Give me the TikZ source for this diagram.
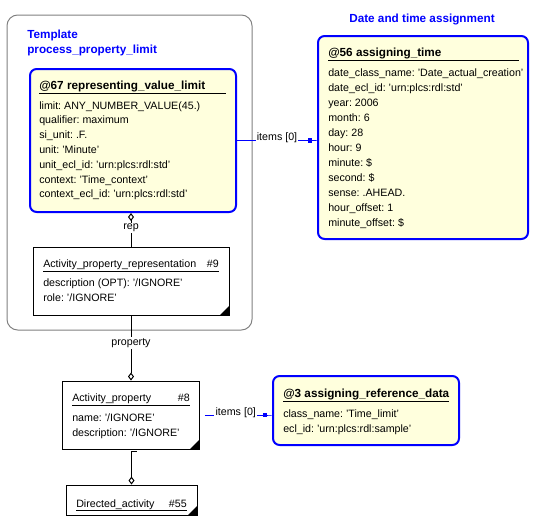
\documentclass[tikz,border=0pt]{standalone}
\usepackage{fontspec}
\setmainfont{Liberation Sans}
\usetikzlibrary{arrows.meta, calc}

\definecolor{entityfill}{RGB}{255,255,221}
\definecolor{entityblue}{RGB}{0,0,255}

\begin{document}
\begin{tikzpicture}[x=0.75pt, y=-0.75pt,
    every node/.style={font=\fontsize{8}{10}\selectfont\frenchspacing},
    entitybox/.style={rectangle, draw=entityblue, line width=1.5pt, fill=entityfill, rounded corners=5pt},
    objbox/.style={rectangle, draw, line width=0.75pt, fill=white},
    attr/.style={anchor=base west, inner sep=0pt},
    ttl/.style={attr, font=\fontsize{8.8}{10}\selectfont\bfseries\frenchspacing},
    heading/.style={inner sep=0pt, text=entityblue, font=\fontsize{8.8}{10}\selectfont\bfseries},
    rel/.style={line width=0.75pt},
    ref/.style={entityblue, line width=0.75pt,
        -{Square[length=3.5pt,width=3.5pt]Rectangle[length=3.5pt,width=0.75pt]}},
    lbl/.style={fill=white, inner sep=1pt, text=black}
]
\useasboundingbox (0,0) rectangle (542,521);

% template frame
\node[rectangle, draw=gray, line width=0.75pt, rounded corners=8pt,
      minimum width=183.75pt, minimum height=236.25pt] (tmpl) at (129.5,172.5) {};
\node[heading, anchor=base west] (tmplname) at (27,38) {Template};
\node[heading, anchor=base west] (tmplproc) at (27,53) {process\_property\_limit};
\node[heading, anchor=base] (dtassign) at (422,22) {Date and time assignment};

% boxes
\node[entitybox, minimum width=154.5pt, minimum height=107.25pt] (b67) at (133,140.5) {};
\node[entitybox, minimum width=157.5pt, minimum height=152.25pt] (b56) at (423,137.5) {};
\node[entitybox, minimum width=139.5pt, minimum height=51.75pt] (b3) at (366,410.5) {};
\node[objbox, minimum width=147pt, minimum height=51pt] (apr) at (131,281) {};
\node[objbox, minimum width=102.75pt, minimum height=51pt] (ap) at (130.5,415) {};
\node[objbox, minimum width=98.25pt, minimum height=22.5pt] (da) at (131.5,500) {};
\foreach \b in {apr, ap, da}
    \fill (\b.south east) -- ++(-10,0) -- ++(10,-10) -- cycle;

% @67
\node[ttl] (b67t) at (39,89) {@67 representing\_value\_limit};
\draw (39,93) -- (226,93);
\foreach \t [count=\i] in {{limit: ANY\_NUMBER\_VALUE(45.)}, {qualifier: maximum}, {si\_unit: .F.},
    {unit: 'Minute'}, {unit\_ecl\_id: 'urn:plcs:rdl:std'}, {context: 'Time\_context'},
    {context\_ecl\_id: 'urn:plcs:rdl:std'}}
    \node[attr] (b67a\i) at (39,94.2+14.8*\i) {\t};

% @56
\node[ttl] (b56t) at (328,56) {@56 assigning\_time};
\draw (328,60) -- (519,60);
\foreach \t [count=\i] in {{date\_class\_name: 'Date\_actual\_creation'}, {date\_ecl\_id: 'urn:plcs:rdl:std'},
    {year: 2006}, {month: 6}, {day: 28}, {hour: 9}, {minute: \$}, {second: \$},
    {sense: .AHEAD.}, {hour\_offset: 1}, {minute\_offset: \$}}
    \node[attr] (b56a\i) at (328,61+15*\i) {\t};

% @3
\node[ttl] (b3t) at (283,397) {@3 assigning\_reference\_data};
\draw (283,401) -- (449,401);
\node[attr] (b3a1) at (283,417) {class\_name: 'Time\_limit'};
\node[attr] (b3a2) at (283,432) {ecl\_id: 'urn:plcs:rdl:sample'};

% #9
\node[attr] (aprt) at (43,267) {Activity\_property\_representation};
\node[attr, anchor=base east] (aprn) at (219,267) {\#9};
\draw (43,271) -- (219,271);
\node[attr] (apra1) at (43,286) {description (OPT): '/IGNORE'};
\node[attr] (apra2) at (43,301) {role: '/IGNORE'};

% #8
\node[attr] (apt) at (72,401) {Activity\_property};
\node[attr, anchor=base east] (apn) at (190,401) {\#8};
\draw (72,405) -- (190,405);
\node[attr] (apa1) at (72,421) {name: '/IGNORE'};
\node[attr] (apa2) at (72,436) {description: '/IGNORE'};

% #55
\node[attr] (dat) at (76,507) {Directed\_activity};
\node[attr, anchor=base east] (dan) at (187,507) {\#55};
\draw (76,510) -- (187,510);

% connectors
\draw[rel, -{Diamond[open, length=6pt, width=4.5pt]}] (apr.north) -- node[lbl, pos=0.55] (rep) {rep} (apr.north |- b67.south);
\draw[rel, -{Diamond[open, length=6pt, width=4.5pt]}] (apr.south) -- node[lbl, pos=0.42] (prop) {property} (apr.south |- ap.north);
\draw[rel, -{Diamond[open, length=6pt, width=4.5pt]}] ($(ap.south)+(6,2)$) -| (da.north);
\draw[ref] (b67.east) -- node[lbl, yshift=2pt] (items1) {items [0]} (b67.east -| b56.west);
\draw[ref, shorten <=4pt] (ap.east) -- node[lbl, yshift=2pt] (items2) {items [0]} (ap.east -| b3.west);
\end{tikzpicture}
\end{document}
